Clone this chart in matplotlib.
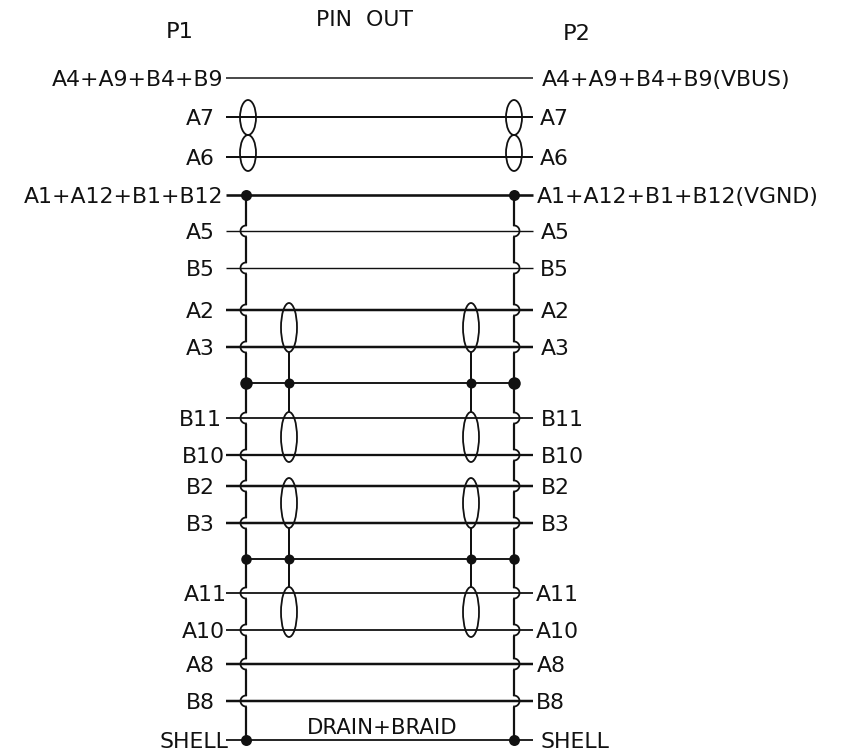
import numpy as np
import matplotlib
matplotlib.use("Agg")
import matplotlib.pyplot as plt
from matplotlib.patches import Ellipse

WIDTH = 841
HEIGHT = 751
PX = 0.72  # one pixel in points at dpi 100
INK = "#111111"

# Wires, top to bottom
left_labels = ["A4+A9+B4+B9", "A7", "A6", "A1+A12+B1+B12", "A5", "B5", "A2", "A3",
               "B11", "B10", "B2", "B3", "A11", "A10", "A8", "B8", "SHELL"]
right_labels = ["A4+A9+B4+B9(VBUS)", "A7", "A6", "A1+A12+B1+B12(VGND)", "A5", "B5", "A2", "A3",
                "B11", "B10", "B2", "B3", "A11", "A10", "A8", "B8", "SHELL"]
wire_y = [78, 117, 157, 195, 231, 268, 310, 347, 418, 455, 486, 523, 593, 630, 664, 701, 740]

# Label anchors
left_label_x = [223, 215, 215, 223, 215, 215, 215, 215, 222, 225, 215, 215, 227, 225, 215, 215, 228]
right_label_x = [542, 540, 540, 537, 541, 540, 541, 541, 541, 541, 541, 541, 536, 536, 537, 536, 541]
wire_px = [1.5, 2.0, 2.0, 2.6, 1.4, 1.4, 2.5, 2.5, 1.8, 2.3, 2.5, 2.5, 1.8, 1.8, 2.5, 2.5, 1.8]

# Drain buses and the links between them
bus_left = 246
bus_right = 514
shield_left = 289
shield_right = 471
bus_top = 195
bus_bottom = 740
link_y = [383, 559]

# Twisted pair loops: (centre x, top, bottom)
pair_outer = [(248, 100, 135), (248, 135, 171), (514, 100, 135), (514, 135, 171)]
pair_spans = [(303, 352), (412, 462), (478, 528), (587, 637)]
shield_runs = [(352, 412), (528, 587)]


def draw_bus(ax, x, side):
    # vertical bus with a small hop wherever a wire crosses it
    hops = [y for y in wire_y if bus_top < y < bus_bottom]
    r = 5.5
    last = bus_top
    for y in hops:
        ax.plot([x, x], [last, y - r], color=INK, lw=2.2 * PX, solid_capstyle="butt")
        t = np.linspace(-np.pi / 2, np.pi / 2, 20)
        ax.plot(x + side * r * np.cos(t), y + r * np.sin(t), color=INK, lw=1.8 * PX)
        last = y + r
    ax.plot([x, x], [last, bus_bottom], color=INK, lw=2.2 * PX, solid_capstyle="butt")


def main():
    plt.rcParams["font.family"] = ["DejaVu Sans"]
    fig = plt.figure(figsize=(WIDTH / 100, HEIGHT / 100), dpi=100)
    ax = fig.add_axes([0, 0, 1, 1])
    ax.set_xlim(0, WIDTH)
    ax.set_ylim(HEIGHT, 0)
    ax.axis("off")

    # Wires and their labels
    for i, y in enumerate(wire_y):
        ax.plot([226, 533], [y, y], color=INK, lw=wire_px[i] * PX, solid_capstyle="butt")
        ax.text(left_label_x[i], y + 8, left_labels[i], ha="right", va="baseline",
                fontsize=15.8, color=INK)
        ax.text(right_label_x[i], y + 8, right_labels[i], ha="left", va="baseline",
                fontsize=15.8, color=INK)

    draw_bus(ax, bus_left, -1)
    draw_bus(ax, bus_right, 1)

    # Links and junction dots
    for y in link_y:
        ax.plot([bus_left, bus_right], [y, y], color=INK, lw=1.9 * PX)
        for x in (shield_left, shield_right):
            ax.plot(x, y, "o", color=INK, ms=10 * PX, mew=0)
    ax.plot([bus_left, bus_right], [link_y[0], link_y[0]], "o", color=INK, ms=12.5 * PX, mew=0)
    ax.plot([bus_left, bus_right], [link_y[1], link_y[1]], "o", color=INK, ms=10.5 * PX, mew=0)
    ax.plot([bus_left, bus_right], [bus_top, bus_top], "o", color=INK, ms=11 * PX, mew=0)
    ax.plot([bus_left, bus_right], [bus_bottom, bus_bottom], "o", color=INK, ms=11 * PX, mew=0)

    # Shield runs between pair loops
    for x in (shield_left, shield_right):
        for top, bottom in shield_runs:
            ax.plot([x, x], [top, bottom], color=INK, lw=2.0 * PX, solid_capstyle="butt")

    # Pair loops
    for x, top, bottom in pair_outer:
        ax.add_patch(Ellipse((x, (top + bottom) / 2), 16, bottom - top, fill=False,
                             ec=INK, lw=1.8 * PX))
    for x in (shield_left, shield_right):
        for top, bottom in pair_spans:
            ax.add_patch(Ellipse((x, (top + bottom) / 2), 16, bottom - top, fill=False,
                                 ec=INK, lw=1.8 * PX))

    # Headings
    ax.text(180, 38, "P1", ha="center", va="baseline", fontsize=16.2, color=INK)
    ax.text(577, 40, "P2", ha="center", va="baseline", fontsize=16.2, color=INK)
    ax.text(365, 26, "PIN  OUT", ha="center", va="baseline", fontsize=15.8, color=INK)
    ax.text(382, 734, "DRAIN+BRAID", ha="center", va="baseline", fontsize=15.3, color=INK)

    fig.savefig("out.png", dpi=100, facecolor="white")


if __name__ == "__main__":
    main()
